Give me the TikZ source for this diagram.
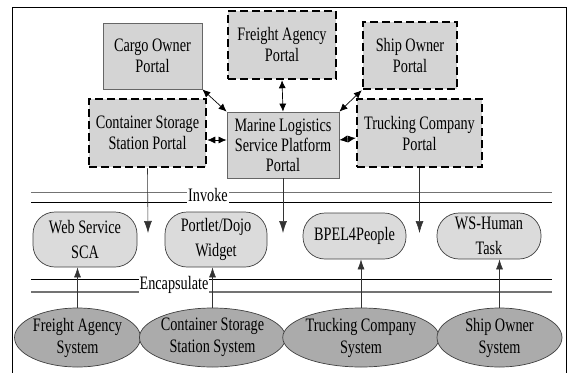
\documentclass[tikz,border=0pt]{standalone}
\usepackage{fontspec}
\setmainfont{Liberation Serif}[FakeStretch=0.75]
\usetikzlibrary{shapes.geometric,arrows.meta}
\begin{document}
\begin{tikzpicture}[x=1pt,y=-1pt,
  txt/.style={font=\fontsize{19}{21}\selectfont, align=center, inner sep=0pt},
  portal/.style={txt, draw=black!60, line width=0.8pt, fill=black!17},
  dportal/.style={portal, draw=black, line width=2.5pt, dash pattern=on 8pt off 4pt},
  svc/.style={txt, font=\fontsize{19}{25}\selectfont, draw=black!75, line width=0.7pt, fill=black!14, rounded corners=22pt},
  sys/.style={txt, font=\fontsize{19}{22}\selectfont, ellipse, draw=black!75, line width=0.7pt, fill=black!33},
  lbl/.style={txt, fill=white, inner xsep=1pt, inner ysep=2pt},
  arr/.style={-{Latex[length=10pt,width=7pt]}, line width=0.6pt, black!80},
  darr/.style={{Latex[length=8pt,width=7pt]}-{Latex[length=8pt,width=7pt]}, line width=0.7pt},
]
\useasboundingbox (0,0) rectangle (570,372);
\draw[line width=0.8pt] (12,7) rectangle (566,400);

% layer lines
\draw[black!55, line width=0.6pt] (31,192) -- (552,192);
\draw[black, line width=0.8pt] (31,202) -- (552,202);
\draw[black, line width=0.8pt] (31,279) -- (552,279);
\draw[black!55, line width=1.6pt] (31,292) -- (552,292);
\node[lbl] (invoke) at (208,195) {Invoke};
\node[lbl] (encap) at (174,284.5) {Encapsulate};

% portals
\node[portal, minimum width=99pt, minimum height=66pt] (cargo) at (152.5,56) {Cargo Owner\\Portal};
\node[dportal, minimum width=108pt, minimum height=68pt] (freight) at (282,45) {Freight Agency\\Portal};
\node[dportal, minimum width=94pt, minimum height=67pt] (ship) at (410,55.5) {Ship Owner\\Portal};
\node[dportal, minimum width=117pt, minimum height=68pt] (css) at (147.5,133) {Container Storage\\Station Portal};
\node[portal, font=\fontsize{19}{20}\selectfont, minimum width=112pt, minimum height=66pt] (marine) at (283,145) {Marine Logistics\\Service Platform\\Portal};
\node[dportal, minimum width=125pt, minimum height=68pt] (truck) at (419.5,133) {Trucking Company\\Portal};

% services
\node[svc, minimum width=104pt, minimum height=55pt] (ws) at (85,239.5) {Web Service\\SCA};
\node[svc, minimum width=102pt, minimum height=55pt] (portlet) at (216,239.5) {Portlet/Dojo\\Widget};
\node[svc, minimum width=103pt, minimum height=46pt] (bpel) at (354.5,236) {BPEL4People};
\node[svc, minimum width=104pt, minimum height=46pt] (wsh) at (489,236) {WS-Human\\Task};

% systems
\node[sys, minimum width=121pt, minimum height=59pt] (fas) at (77.5,337.5) {Freight Agency\\System};
\node[sys, minimum width=131pt, minimum height=59pt] (csss) at (212.5,337.5) {Container Storage\\Station System};
\node[sys, minimum width=148pt, minimum height=59pt] (tcs) at (361,337.5) {Trucking Company\\System};
\node[sys, minimum width=125pt, minimum height=59pt] (sos) at (499.5,337.5) {Ship Owner\\System};

% portal connectors
\draw[darr] (cargo.south east) -- (marine.north west);
\draw[darr] (freight.south) -- (marine.north);
\draw[darr] (ship.south west) -- (marine.north east);
\draw[darr] (css.east |- 0,140) -- (marine.west |- 0,140);
\draw[darr] (truck.west |- 0,138) -- (marine.east |- 0,140);

% invoke arrows
\coordinate (d1) at (148,233);
\coordinate (d2) at (283,233);
\coordinate (d3) at (419.5,233);
\draw[arr, -{Latex[length=12pt,width=8pt]}] (css.south) -- (d1);
\draw[arr, -{Latex[length=12pt,width=8pt]}] (marine.south) -- (d2);
\draw[arr, -{Latex[length=12pt,width=8pt]}] (truck.south) -- (d3);

% encapsulate arrows
\draw[arr] (fas.north) -- (fas.north |- ws.south);
\draw[arr] (csss.north) -- (csss.north |- portlet.south);
\draw[arr] (tcs.north) -- (tcs.north |- bpel.south);
\draw[arr] (sos.north) -- (sos.north |- wsh.south);
\end{tikzpicture}
\end{document}
